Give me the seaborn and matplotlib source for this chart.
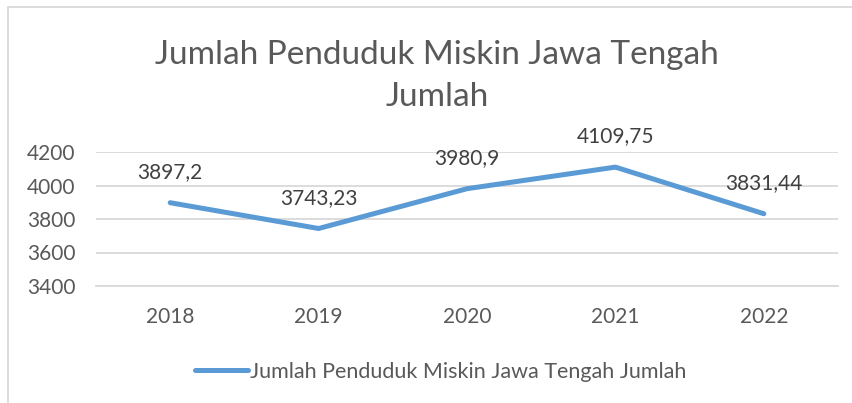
import pandas as pd
import matplotlib.pyplot as plt
import seaborn as sns
from matplotlib.lines import Line2D

YEARS = ['2018', '2019', '2020', '2021', '2022']
JUMLAH = [3897.2, 3743.23, 3980.9, 4109.75, 3831.44]
LABELS = ['3897,2', '3743,23', '3980,9', '4109,75', '3831,44']
SERIES = 'Jumlah Penduduk Miskin Jawa Tengah Jumlah'

BLUE = '#5B9BD5'
GREY_TXT = '#595959'
GRID = '#D9D9D9'

sns.set_style('white')
plt.rcParams['font.family'] = ['Lato', 'DejaVu Sans']

df = pd.DataFrame({'tahun': YEARS, 'jumlah': JUMLAH})

fig = plt.figure(figsize=(8.53, 4.03), dpi=100)
ax = fig.add_axes([96 / 853, 1 - 286 / 403, (838 - 96) / 853, (286 - 152) / 403])

sns.lineplot(data=df, x='tahun', y='jumlah', ax=ax, color=BLUE, linewidth=3.6,
             solid_capstyle='round', label=SERIES, legend=False)

for i, (v, lab) in enumerate(zip(JUMLAH, LABELS)):
    ax.annotate(lab, (i, v), xytext=(0, 22), textcoords='offset points',
                ha='center', va='center', fontsize=15, color='#404040')

ax.set_xlim(-0.5, 4.5)
ax.set_ylim(3400, 4200)
ax.set_yticks([3400, 3600, 3800, 4000, 4200])
ax.yaxis.grid(True, color=GRID, linewidth=1.3)
ax.set_axisbelow(True)
for s in ['top', 'right', 'left']:
    ax.spines[s].set_visible(False)
ax.spines['bottom'].set_color(GRID)
ax.spines['bottom'].set_linewidth(1.3)
ax.tick_params(axis='both', length=0, labelsize=15, labelcolor=GREY_TXT, pad=15)
ax.set_xlabel('')
ax.set_ylabel('')

fig.text(437 / 853, 1 - 76 / 403, 'Jumlah Penduduk Miskin Jawa Tengah\nJumlah',
         ha='center', va='center', fontsize=24, color=GREY_TXT, linespacing=1.5)

handle = Line2D([], [], color=BLUE, linewidth=3.6, solid_capstyle='round')
fig.legend([handle], [SERIES], loc='center', bbox_to_anchor=(441 / 853, 1 - 372 / 403),
           frameon=False, fontsize=15.5, labelcolor=GREY_TXT, handlelength=2.45,
           handletextpad=0.1)

# chart frame
fig.add_artist(Line2D([8 / 853, 8 / 853], [0, 1 - 7 / 403], color=GRID, linewidth=1.3))
fig.add_artist(Line2D([8 / 853, 1], [1 - 7 / 403, 1 - 7 / 403], color=GRID, linewidth=1.3))

fig.savefig('out.png', dpi=100)
